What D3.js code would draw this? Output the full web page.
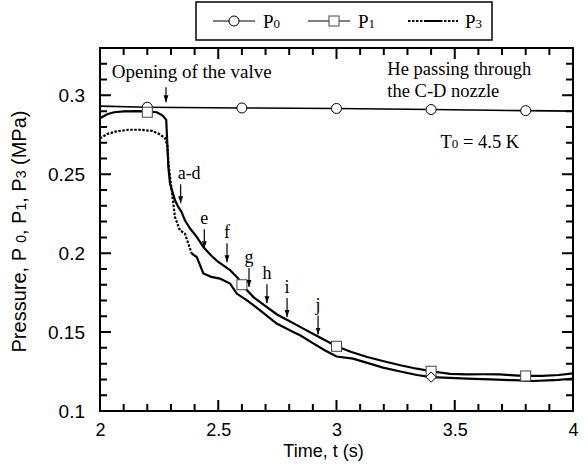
<!DOCTYPE html>
<html>
<head>
<meta charset="utf-8">
<script src="https://cdn.jsdelivr.net/npm/d3@7"></script>
</head>
<body style="margin:0">
<div id="chart"></div>
<script>
// P0 (inlet pressure)
var p0_t = [2.00, 2.20, 2.60, 3.00, 3.40, 3.80, 4.00];
var p0_v = [0.2932, 0.2925, 0.2920, 0.2917, 0.2910, 0.2903, 0.2900];
var p0_mark_t = [2.2, 2.6, 3.0, 3.4, 3.8];
var p0_mark_v = [0.2925, 0.2920, 0.2917, 0.2910, 0.2903];

// P1
var p1_t = [2.00, 2.03, 2.06, 2.10, 2.15, 2.20, 2.24, 2.265, 2.28, 2.285, 2.289, 2.296, 2.317,
	2.331, 2.345, 2.359, 2.381, 2.409, 2.437, 2.47, 2.50, 2.55, 2.585, 2.60, 2.65, 2.70, 2.75,
	2.80, 2.85, 2.90, 2.95, 3.00, 3.06, 3.13, 3.20, 3.27, 3.34, 3.40, 3.48, 3.55, 3.62, 3.69,
	3.75, 3.80, 3.87, 3.94, 4.00];
var p1_v = [0.2855, 0.2880, 0.2893, 0.2898, 0.2900, 0.2898, 0.2893, 0.2872, 0.2845, 0.2680, 0.2546,
	0.2441, 0.2335, 0.2293, 0.2261, 0.2208, 0.2156, 0.2103, 0.2039, 0.1985, 0.1944, 0.1892, 0.1839,
	0.1800, 0.1720, 0.1665, 0.1610, 0.1570, 0.1530, 0.1490, 0.1450, 0.1410, 0.1375, 0.1342, 0.1315,
	0.1290, 0.1268, 0.1252, 0.1235, 0.1232, 0.1233, 0.1232, 0.1226, 0.1222, 0.1222, 0.1228, 0.1238];
var p1_mark_t = [2.2, 2.6, 3.0, 3.4, 3.8];
var p1_mark_v = [0.2893, 0.1800, 0.1410, 0.1252, 0.1222];

// P3
var p3_t = [2.00, 2.03, 2.07, 2.12, 2.17, 2.22, 2.25, 2.275, 2.285, 2.29, 2.303, 2.317, 2.338,
	2.359, 2.388, 2.409, 2.437, 2.47, 2.507, 2.55, 2.578, 2.62, 2.677, 2.747, 2.817, 2.846, 2.90,
	2.95, 3.00, 3.07, 3.13, 3.197, 3.27, 3.34, 3.40, 3.48, 3.55, 3.65, 3.75, 3.83, 3.92, 4.00];
var p3_v = [0.2727, 0.2755, 0.2772, 0.2782, 0.2782, 0.2775, 0.2755, 0.2730, 0.2680, 0.2560, 0.2400,
	0.2229, 0.2145, 0.2124, 0.1997, 0.1976, 0.1871, 0.1850, 0.1839, 0.1807, 0.1744, 0.1702, 0.1638,
	0.1554, 0.1501, 0.1480, 0.1430, 0.1385, 0.1345, 0.1332, 0.1305, 0.1275, 0.1250, 0.1228, 0.1215,
	0.1210, 0.1205, 0.1200, 0.1195, 0.1190, 0.1195, 0.1205];
var p3_dash_end = 2.388;

// arrows a-j
var note_labels = ["a-d", "e", "f", "g", "h", "i", "j"];
var note_t = [2.341, 2.441, 2.537, 2.630, 2.706, 2.791, 2.922];
var note_v = [0.2316, 0.2031, 0.1942, 0.1786, 0.1683, 0.1596, 0.1484];

var x_major = [2, 2.5, 3, 3.5, 4];
var y_major = [0.1, 0.15, 0.2, 0.25, 0.3];

var legend_subs = ["0", "1", "3"];

var margin = {top: 48, right: 15, bottom: 54, left: 100},
	width = 588 - margin.left - margin.right,
	height = 465 - margin.top - margin.bottom;

var x = d3.scaleLinear().domain([2, 4]).range([0, width]);
var y = d3.scaleLinear().domain([0.1, 0.33]).range([height, 0]);

var root = d3.select("#chart").append("svg")
	.attr("width", 588)
	.attr("height", 465);
var svg = root.append("g")
	.attr("transform", "translate(" + margin.left + "," + margin.top + ")");

var sans = "'Liberation Sans', Arial, sans-serif";
var serif = "'Liberation Serif', 'Times New Roman', serif";

var x_minor = d3.range(20, 41).map(d => d / 10).filter(d => x_major.indexOf(d) < 0);
var y_minor = d3.range(10, 34).map(d => d / 100).filter(d => y_major.indexOf(d) < 0);
var x_all = x_major.concat(x_minor);
var y_all = y_major.concat(y_minor);

// frame
svg.append("rect")
	.attr("x", 0).attr("y", 0)
	.attr("width", width).attr("height", height)
	.attr("fill", "none")
	.attr("stroke", "black")
	.attr("stroke-width", 2);

// tick labels
svg.append("g").attr("transform", "translate(0," + height + ")")
	.call(d3.axisBottom(x).tickValues(x_major).tickSize(0).tickPadding(12).tickFormat(d3.format("")))
	.call(g => g.select(".domain").remove())
	.call(g => g.selectAll("text").attr("font-family", sans).attr("font-size", "18px").attr("fill", "black"));
svg.append("g")
	.call(d3.axisLeft(y).tickValues(y_major).tickSize(0).tickPadding(15).tickFormat(d3.format("")))
	.call(g => g.select(".domain").remove())
	.call(g => g.selectAll("text").attr("font-family", sans).attr("font-size", "19px").attr("fill", "black"));

var line = d3.line().x(d => x(d[0])).y(d => y(d[1]));

var p0 = p0_t.map((t, i) => [t, p0_v[i]]);
var p1 = p1_t.map((t, i) => [t, p1_v[i]]);
var p3 = p3_t.map((t, i) => [t, p3_v[i]]);

svg.append("path").datum(p0)
	.attr("d", line).attr("fill", "none")
	.attr("stroke", "black").attr("stroke-width", 1.6);

svg.append("path").datum(p1)
	.attr("d", line).attr("fill", "none")
	.attr("stroke", "black").attr("stroke-width", 2.2);

// P3 dotted before the drop settles, solid (noisy) after
svg.append("path").datum(p3.filter(d => d[0] <= p3_dash_end))
	.attr("d", line).attr("fill", "none")
	.attr("stroke", "black").attr("stroke-width", 2.2)
	.attr("stroke-dasharray", "2.5,1.5");
svg.append("path").datum(p3.filter(d => d[0] >= p3_dash_end))
	.attr("d", line).attr("fill", "none")
	.attr("stroke", "black").attr("stroke-width", 2.2);

// markers
svg.append("g").selectAll("circle")
	.data(p0_mark_t)
	.enter()
	.append("circle")
	.attr("cx", d => x(d))
	.attr("cy", (d, i) => y(p0_mark_v[i]))
	.attr("r", 5)
	.attr("fill", "white")
	.attr("stroke", "black")
	.attr("stroke-width", 1);

svg.append("g").selectAll("rect")
	.data(p1_mark_t)
	.enter()
	.append("rect")
	.attr("x", d => x(d) - 5)
	.attr("y", (d, i) => y(p1_mark_v[i]) - 5)
	.attr("width", 10)
	.attr("height", 10)
	.attr("fill", "white")
	.attr("stroke", "#444")
	.attr("stroke-width", 1);

// P3 diamond at 3.4
svg.append("path")
	.attr("d", d3.symbol().type(d3.symbolDiamond2).size(70))
	.attr("transform", "translate(" + x(3.4) + "," + y(p3_v[p3_t.indexOf(3.40)]) + ")")
	.attr("fill", "white")
	.attr("stroke", "black")
	.attr("stroke-width", 1);

// arrowhead
root.append("defs").append("marker")
	.attr("id", "arr")
	.attr("viewBox", "0 0 10 10")
	.attr("refX", 10).attr("refY", 5)
	.attr("markerWidth", 7).attr("markerHeight", 7)
	.attr("markerUnits", "userSpaceOnUse")
	.attr("orient", "auto")
  .append("path")
	.attr("d", "M0,1.5 L10,5 L0,8.5 Z")
	.attr("fill", "black");

var notes = svg.append("g");
notes.selectAll("line")
	.data(note_labels)
	.enter()
	.append("line")
	.attr("x1", (d, i) => x(note_t[i]))
	.attr("x2", (d, i) => x(note_t[i]))
	.attr("y1", (d, i) => y(note_v[i]) - 19)
	.attr("y2", (d, i) => y(note_v[i]))
	.attr("stroke", "black")
	.attr("stroke-width", 1.2)
	.attr("marker-end", "url(#arr)");
notes.selectAll("text")
	.data(note_labels)
	.enter()
	.append("text")
	.attr("x", (d, i) => i == 0 ? x(note_t[i]) - 3 : x(note_t[i]))
	.attr("y", (d, i) => y(note_v[i]) - 24)
	.attr("text-anchor", (d, i) => i == 0 ? "start" : "middle")
	.attr("font-family", serif)
	.attr("font-size", "18px")
	.text(d => d);

// valve opening
svg.append("line")
	.attr("x1", x(2.279)).attr("x2", x(2.279))
	.attr("y1", y(0.2956) - 15).attr("y2", y(0.2956))
	.attr("stroke", "black")
	.attr("stroke-width", 1.2)
	.attr("marker-end", "url(#arr)");
svg.append("text")
	.attr("x", x(2.05)).attr("y", 30)
	.attr("font-family", serif).attr("font-size", "19px")
	.text("Opening of the valve");

svg.append("text")
	.attr("x", x(3.215)).attr("y", 27)
	.attr("font-family", serif).attr("font-size", "18.5px")
	.text("He passing through");
svg.append("text")
	.attr("x", x(3.215)).attr("y", 49)
	.attr("font-family", serif).attr("font-size", "18.5px")
	.text("the C-D nozzle");

var t0 = svg.append("text")
	.attr("x", x(3.44)).attr("y", 100)
	.attr("font-family", serif).attr("font-size", "18.5px");
t0.append("tspan").text("T");
t0.append("tspan").attr("font-size", "13px").text("0");
t0.append("tspan").text(" = 4.5 K");

// axis titles
svg.append("text")
	.attr("x", width / 2 - 13)
	.attr("y", height + 46)
	.attr("text-anchor", "middle")
	.attr("font-family", sans).attr("font-size", "18px")
	.text("Time, t (s)");

var ylab = svg.append("text")
	.attr("transform", "translate(-74," + (height / 2 + 2) + ") rotate(-90)")
	.attr("text-anchor", "middle")
	.attr("font-family", sans).attr("font-size", "20px");
ylab.append("tspan").text("Pressure, P ");
ylab.append("tspan").attr("font-size", "14px").text("0");
ylab.append("tspan").text(", P");
ylab.append("tspan").attr("font-size", "14px").text("1");
ylab.append("tspan").text(", P");
ylab.append("tspan").attr("font-size", "14px").text("3");
ylab.append("tspan").text(" (MPa)");

// legend
var leg = root.append("g");
leg.append("rect")
	.attr("x", 196).attr("y", 2)
	.attr("width", 296).attr("height", 38)
	.attr("fill", "white")
	.attr("stroke", "black")
	.attr("stroke-width", 1.5);

var leg_x = [213, 308, 408];
legend_subs.forEach(function(s, i) {
	var g = leg.append("g").attr("transform", "translate(" + leg_x[i] + ",21)");
	g.append("line")
		.attr("x1", 0).attr("x2", i == 2 ? 50 : 42)
		.attr("y1", 0).attr("y2", 0)
		.attr("stroke", "black")
		.attr("stroke-width", i == 2 ? 2 : 1.2)
		.attr("stroke-dasharray", i == 2 ? "2.5,1.5" : null);
	if (i == 0) {
		g.append("circle").attr("cx", 21).attr("cy", 0).attr("r", 5)
			.attr("fill", "white").attr("stroke", "black");
	} else if (i == 1) {
		g.append("rect").attr("x", 21).attr("y", -5).attr("width", 10).attr("height", 10)
			.attr("fill", "white").attr("stroke", "#444");
	} else {
		g.append("line").attr("x1", 18).attr("x2", 32).attr("y1", 0).attr("y2", 0)
			.attr("stroke", "black").attr("stroke-width", 2);
	}
	var txt = g.append("text")
		.attr("x", i == 2 ? 57 : 50).attr("y", 7)
		.attr("font-family", serif).attr("font-size", "19px");
	txt.append("tspan").text("P");
	txt.append("tspan").attr("font-size", "13px").text(s);
});

// inward ticks on all four sides, drawn last: one path per side
var major_len = 11, minor_len = 7;
function len(list, d) { return list.indexOf(d) >= 0 ? major_len : minor_len; }
var tick_g = root.append("g")
	.attr("transform", "translate(" + margin.left + "," + margin.top + ")");
tick_g.append("path")
	.attr("d", x_all.map(d => "M" + x(d) + "," + height + "V" + (height - len(x_major, d))).join(""))
	.attr("fill", "none").attr("stroke", "#000").attr("stroke-width", 2);
tick_g.append("path")
	.attr("d", x_all.map(d => "M" + x(d) + ",0V" + len(x_major, d)).join(""))
	.attr("fill", "none").attr("stroke", "#000").attr("stroke-width", 2);
tick_g.append("path")
	.attr("d", y_all.map(d => "M0," + y(d) + "H" + len(y_major, d)).join(""))
	.attr("fill", "none").attr("stroke", "#000").attr("stroke-width", 2);
tick_g.append("path")
	.attr("d", y_all.map(d => "M" + width + "," + y(d) + "H" + (width - len(y_major, d))).join(""))
	.attr("fill", "none").attr("stroke", "#000").attr("stroke-width", 2);
</script>
</body>
</html>
